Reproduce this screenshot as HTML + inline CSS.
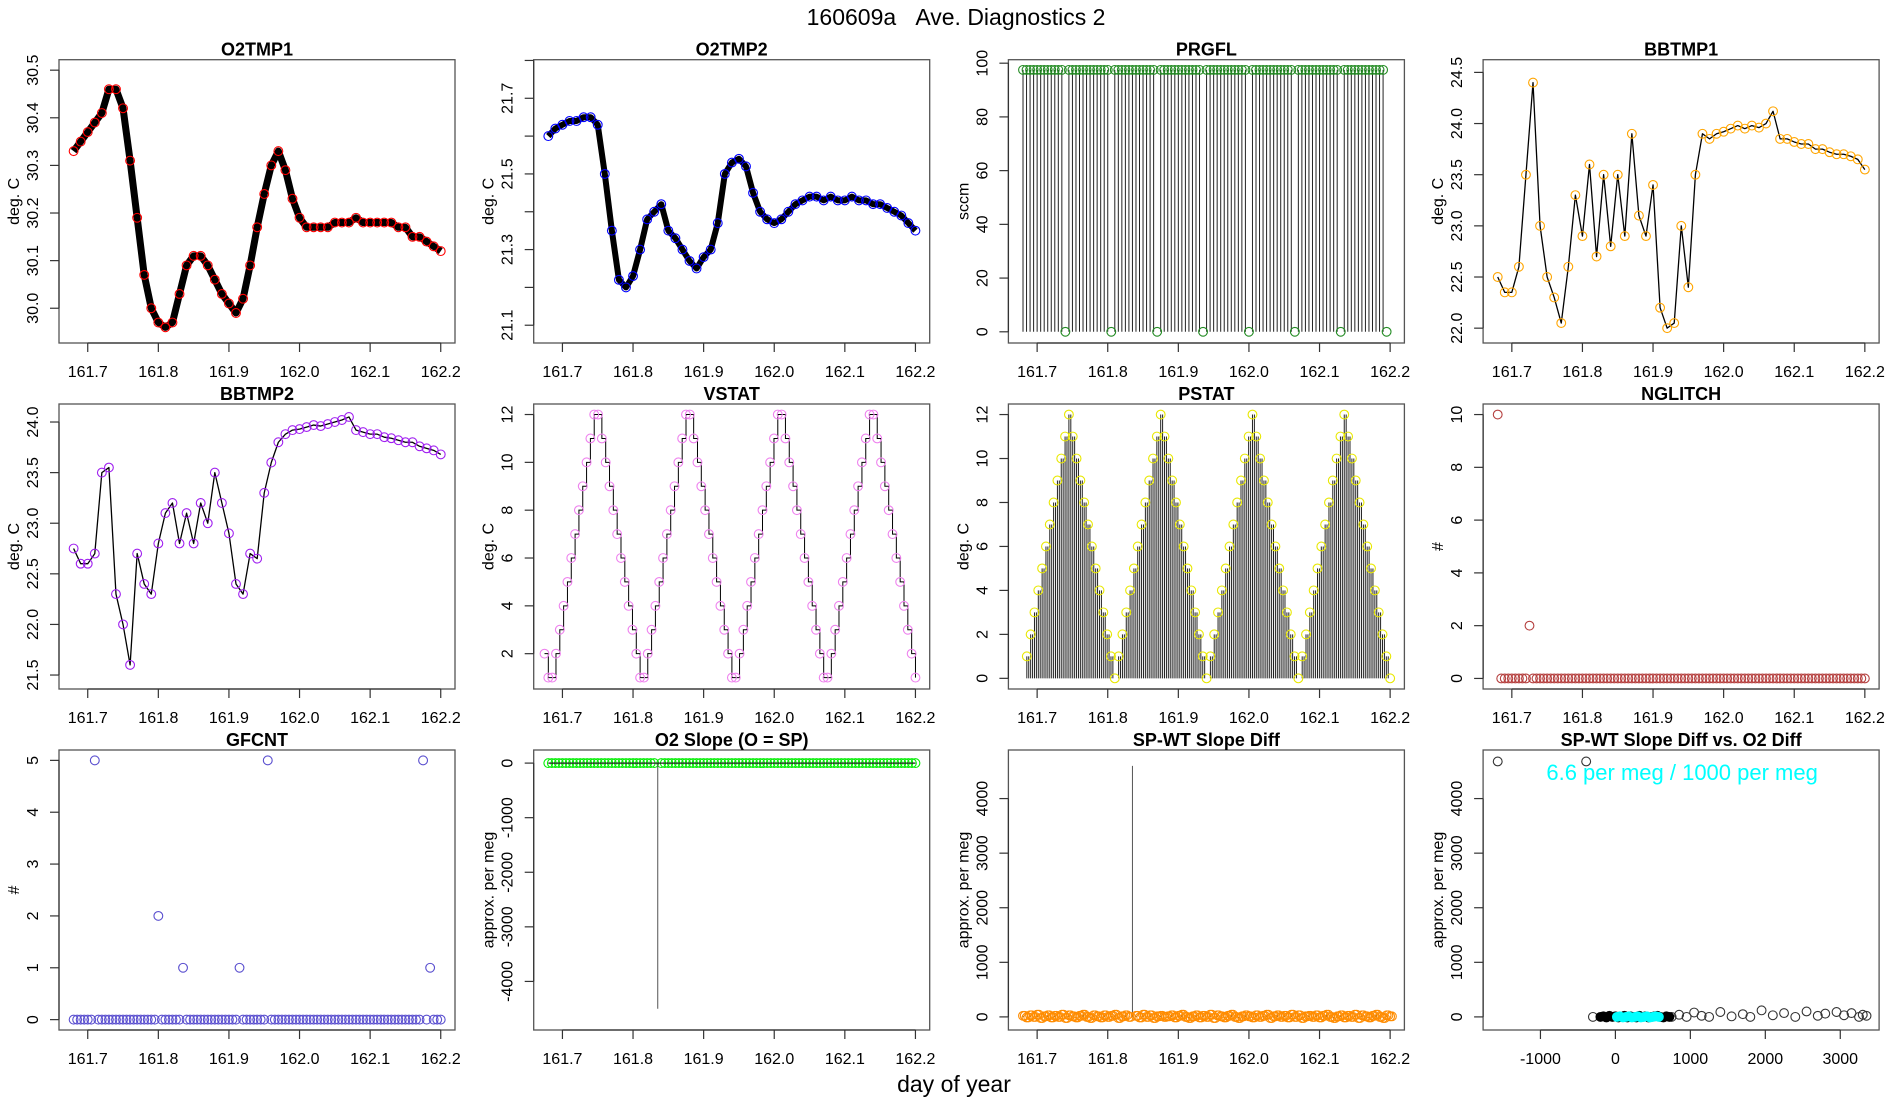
<!DOCTYPE html>
<html><head><meta charset="utf-8"><style>
html,body{margin:0;padding:0;background:#fff;}
svg{display:block;font-family:"Liberation Sans",Arial,sans-serif;}
</style></head><body>
<svg id="chart" xmlns="http://www.w3.org/2000/svg" width="1900" height="1100" viewBox="0 0 1900 1100">
<rect x="0" y="0" width="1900" height="1100" fill="#fff"/>
<text x="956" y="25" font-size="23" text-anchor="middle">160609a&#160;&#160;&#160;Ave. Diagnostics 2</text>
<text x="954" y="1092" font-size="23" text-anchor="middle">day of year</text>
</svg>
<script>
// ---- data ----
const dayStart = 161.68, dayStep = 0.01;
const o2tmp1 = [30.33,30.35,30.37,30.39,30.41,30.46,30.46,30.42,30.31,30.19,30.07,30.00,29.97,29.96,29.97,30.03,30.09,30.11,30.11,30.09,30.06,30.03,30.01,29.99,30.02,30.09,30.17,30.24,30.30,30.33,30.29,30.23,30.19,30.17,30.17,30.17,30.17,30.18,30.18,30.18,30.19,30.18,30.18,30.18,30.18,30.18,30.17,30.17,30.15,30.15,30.14,30.13,30.12];
const o2tmp2 = [21.60,21.62,21.63,21.64,21.64,21.65,21.65,21.63,21.50,21.35,21.22,21.20,21.23,21.30,21.38,21.40,21.42,21.35,21.33,21.30,21.27,21.25,21.28,21.30,21.37,21.50,21.53,21.54,21.52,21.45,21.40,21.38,21.37,21.38,21.40,21.42,21.43,21.44,21.44,21.43,21.44,21.43,21.43,21.44,21.43,21.43,21.42,21.42,21.41,21.40,21.39,21.37,21.35];
const bbtmp1 = [22.5,22.35,22.35,22.6,23.5,24.4,23.0,22.5,22.3,22.05,22.6,23.3,22.9,23.6,22.7,23.5,22.8,23.5,22.9,23.9,23.1,22.9,23.4,22.2,22.0,22.05,23.0,22.4,23.5,23.9,23.85,23.9,23.92,23.95,23.98,23.95,23.98,23.96,24.0,24.12,23.85,23.85,23.82,23.8,23.8,23.75,23.75,23.72,23.7,23.7,23.68,23.65,23.55];
const bbtmp2 = [22.75,22.6,22.6,22.7,23.5,23.55,22.3,22.0,21.6,22.7,22.4,22.3,22.8,23.1,23.2,22.8,23.1,22.8,23.2,23.0,23.5,23.2,22.9,22.4,22.3,22.7,22.65,23.3,23.6,23.8,23.88,23.92,23.93,23.95,23.97,23.96,23.98,24.0,24.02,24.05,23.92,23.9,23.88,23.88,23.85,23.84,23.82,23.8,23.8,23.76,23.74,23.72,23.68];
const fineStart = 161.68, fineStep = 0.005;
const prgfl = [97.5,97.5,97.5,97.5,97.5,97.5,97.5,97.5,97.5,97.5,97.5,97.5,0,
97.5,97.5,97.5,97.5,97.5,97.5,97.5,97.5,97.5,97.5,97.5,97.5,0,
97.5,97.5,97.5,97.5,97.5,97.5,97.5,97.5,97.5,97.5,97.5,97.5,0,
97.5,97.5,97.5,97.5,97.5,97.5,97.5,97.5,97.5,97.5,97.5,97.5,0,
97.5,97.5,97.5,97.5,97.5,97.5,97.5,97.5,97.5,97.5,97.5,97.5,0,
97.5,97.5,97.5,97.5,97.5,97.5,97.5,97.5,97.5,97.5,97.5,97.5,0,
97.5,97.5,97.5,97.5,97.5,97.5,97.5,97.5,97.5,97.5,97.5,97.5,0,
97.5,97.5,97.5,97.5,97.5,97.5,97.5,97.5,97.5,97.5,97.5,97.5,0];
const vstatStart = 161.6746, statStep = 0.005417;
const vstat = [2,1,1,2,3,4,5,6,7,8,9,10,11,12,12,11,10,9,8,7,6,5,4,3,2,1,1,2,3,4,5,6,7,8,9,10,11,12,12,11,10,9,8,7,6,5,4,3,2,1,1,2,3,4,5,6,7,8,9,10,11,12,12,11,10,9,8,7,6,5,4,3,2,1,1,2,3,4,5,6,7,8,9,10,11,12,12,11,10,9,8,7,6,5,4,3,2,1];
const pstatStart = 161.6854;
const pstat = [1,2,3,4,5,6,7,8,9,10,11,12,11,10,9,8,7,6,5,4,3,2,1,0,1,2,3,4,5,6,7,8,9,10,11,12,11,10,9,8,7,6,5,4,3,2,1,0,1,2,3,4,5,6,7,8,9,10,11,12,11,10,9,8,7,6,5,4,3,2,1,0,1,2,3,4,5,6,7,8,9,10,11,12,11,10,9,8,7,6,5,4,3,2,1,0];
const nglitch = [10,0,0,0,0,0,0,0,0,2,0,0,0,0,0,0,0,0,0,0,0,
0,0,0,0,0,0,0,0,0,0,0,0,0,0,0,0,0,0,0,0,0,
0,0,0,0,0,0,0,0,0,0,0,0,0,0,0,0,0,0,0,0,0,
0,0,0,0,0,0,0,0,0,0,0,0,0,0,0,0,0,0,0,0,0,
0,0,0,0,0,0,0,0,0,0,0,0,0,0,0,0,0,0,0,0,0];
const gfcnt = [0,0,0,0,0,0,5,0,0,0,0,0,0,0,0,0,0,0,0,0,0,
0,0,0,2,0,0,0,0,0,0,1,0,0,0,0,0,0,0,0,0,0,
0,0,0,0,0,1,0,0,0,0,0,0,0,5,0,0,0,0,0,0,0,
0,0,0,0,0,0,0,0,0,0,0,0,0,0,0,0,0,0,0,0,0,
0,0,0,0,0,0,0,0,0,0,0,0,0,0,0,5,0,1,0,0,0];
const o2slope = [0,0,0,0,0,0,0,0,0,0,0,0,0,0,0,0,0,0,0,0,0,
0,0,0,0,0,0,0,0,0,0,-4500,0,0,0,0,0,0,0,0,0,0,
0,0,0,0,0,0,0,0,0,0,0,0,0,0,0,0,0,0,0,0,0,
0,0,0,0,0,0,0,0,0,0,0,0,0,0,0,0,0,0,0,0,0,
0,0,0,0,0,0,0,0,0,0,0,0,0,0,0,0,0,0,0,0,0];
const spwt = [20,-10,30,0,40,-20,10,30,-10,20,0,40,-20,30,10,-10,20,40,0,-20,30,
10,-10,30,0,20,40,-20,10,30,0,4600,20,-10,40,0,30,-20,10,20,0,10,
30,-10,20,40,0,-20,10,30,-10,20,0,40,-20,30,10,-10,20,40,0,-20,10,
30,10,-10,30,0,20,40,-20,10,30,0,20,-10,40,0,30,-20,10,20,0,30,
-10,20,40,0,-20,10,30,-10,20,0,40,-20,30,10,-10,20,40,0,-20,30,10];
const scatterX = [-1570,-390,-300,750,850,950,1050,1150,1250,1400,1550,1700,1800,1950,2100,2250,2400,2550,2700,2800,2950,3050,3150,3250,3300,3350];
const scatterY = [4680,4680,0,0,40,0,80,20,0,90,10,50,0,120,30,70,0,100,20,60,90,30,70,0,40,20];
const blobX = [-200,-160,-120,-80,-40,0,40,80,120,160,200,240,280,320,360,400,440,480,520,560,600,640,680,720];
const blobY = [0,10,-10,20,0,10,-10,0,20,-10,10,0,-10,20,0,10,-10,0,10,20,0,-10,10,0];
const cyanX = [20,60,100,140,180,220,260,300,340,380,420,460,500,540,580];
const cyanY = [0,10,-10,0,10,-10,0,10,-10,0,10,-10,0,10,0];
const dayTicks = [161.7,161.8,161.9,162.0,162.1,162.2];
const dayTickLabels = ["161.7","161.8","161.9","162.0","162.1","162.2"];

// ---- layout ----
const NS = 'http://www.w3.org/2000/svg';
const svg = document.getElementById('chart');
const COLS = [59, 533.7, 1008.4, 1483.1], W = 396;
const ROWS = [{top:59.7,h:283.3},{top:404,h:285},{top:750,h:280}];
const DAYD = [161.6593, 162.2202];
function mk(tag, attrs, parent){
  const e = document.createElementNS(NS, tag);
  for (const k in attrs) e.setAttribute(k, attrs[k]);
  (parent || svg).appendChild(e);
  return e;
}
function range(a, b, s){ const r=[]; for(let v=a; v<=b+1e-9; v+=s) r.push(+v.toFixed(6)); return r; }
function panel(key, col, row, title, ylab, yd, yticks, ylabels, xd, xticks, xlabels){
  const x0 = COLS[col], y0 = ROWS[row].top, h = ROWS[row].h, w = W;
  const g = mk('g', {});
  
  
  const sx = v => x0 + (v - xd[0]) / (xd[1] - xd[0]) * w;
  const sy = v => y0 + h - (v - yd[0]) / (yd[1] - yd[0]) * h;
  const box = mk('rect', {x:x0, y:y0, width:w, height:h, fill:'none', stroke:'#555', 'stroke-width':1.3}, g);
  
  
  const t = mk('text', {x:x0 + w/2, y:y0 - 4, 'font-size':18, 'font-weight':'bold', 'text-anchor':'middle'}, g);
  t.textContent = title;
  
  
  const by = y0 + h;
  const xa = mk('line', {x1:sx(xticks[0]), x2:sx(xticks[xticks.length-1]), y1:by, y2:by, stroke:'#333', 'stroke-width':1.2}, g);
  
  
  xticks.forEach((v, i) => {
    const tk = mk('line', {x1:sx(v), x2:sx(v), y1:by, y2:by + 9, stroke:'#333', 'stroke-width':1.2}, g);
    
    
    const lb = mk('text', {x:sx(v), y:by + 34, 'font-size':16, 'text-anchor':'middle'}, g);
    lb.textContent = xlabels[i];
    
    
  });
  const ya = mk('line', {x1:x0, x2:x0, y1:sy(yticks[0]), y2:sy(yticks[yticks.length-1]), stroke:'#333', 'stroke-width':1.2}, g);
  
  
  yticks.forEach((v, i) => {
    const tk = mk('line', {x1:x0 - 9, x2:x0, y1:sy(v), y2:sy(v), stroke:'#333', 'stroke-width':1.2}, g);
    
    
    if (ylabels[i] !== '') {
      const lx = x0 - 21, ly = sy(v);
      const lb = mk('text', {x:lx, y:ly, 'font-size':16, 'text-anchor':'middle', transform:'rotate(-90 ' + lx + ' ' + ly + ')'}, g);
      lb.textContent = ylabels[i];
      
      
    }
  });
  const yx = x0 - 40, yy = y0 + h/2;
  const yl = mk('text', {x:yx, y:yy, 'font-size':16, 'text-anchor':'middle', transform:'rotate(-90 ' + yx + ' ' + yy + ')'}, g);
  yl.textContent = ylab;
  
  
  return {sx, sy, g};
}
function polyline(p, xs, ys, color, sw, name){
  const pts = xs.map((x, i) => p.sx(x).toFixed(2) + ',' + p.sy(ys[i]).toFixed(2)).join(' ');
  const l = mk('polyline', {points:pts, fill:'none', stroke:color, 'stroke-width':sw, 'stroke-linejoin':'round'}, p.g);
  
  
}
function circles(p, xs, ys, color, name, filled, maxAbs){
  xs.forEach((x, i) => {
    if (ys[i] === undefined) return;
    if (maxAbs !== undefined && Math.abs(ys[i]) > maxAbs) return;
    const c = mk('circle', {cx:p.sx(x), cy:p.sy(ys[i]), r:4.4, fill:filled ? color : 'none', stroke:color, 'stroke-width':1.1}, p.g);
    
    
  });
}
function timesFor(arr, start, step){ return arr.map((_, i) => start + i * step); }
function stems(p, xs, ys, color, name){
  xs.forEach((x, i) => {
    if (ys[i] === undefined) return;
    const l = mk('line', {x1:p.sx(x), x2:p.sx(x), y1:p.sy(0), y2:p.sy(ys[i]), stroke:color, 'stroke-width':1}, p.g);
    
    
  });
}
function stepPath(p, xs, ys, color, name){
  let d = 'M' + p.sx(xs[0]) + ',' + p.sy(ys[0]);
  for (let i = 1; i < xs.length; i++) d += ' H' + p.sx(xs[i]) + ' V' + p.sy(ys[i]);
  const l = mk('path', {d:d, fill:'none', stroke:color, 'stroke-width':1}, p.g);
  
  
}

// ---- panels ----
const tDay = timesFor(o2tmp1, dayStart, dayStep);
const tFine = timesFor(nglitch, fineStart, fineStep);

let p = panel('o2tmp1', 0, 0, 'O2TMP1', 'deg. C', [29.927, 30.522], range(30.0, 30.5, 0.1), ['30.0','30.1','30.2','30.3','30.4','30.5'], DAYD, dayTicks, dayTickLabels);
polyline(p, tDay, o2tmp1, '#000', 7, 'o2tmp1-line');
circles(p, tDay, o2tmp1, '#ff0000', 'o2tmp1-point');

p = panel('o2tmp2', 1, 0, 'O2TMP2', 'deg. C', [21.053, 21.802], range(21.1, 21.8, 0.1), ['21.1','','21.3','','21.5','','21.7',''], DAYD, dayTicks, dayTickLabels);
polyline(p, tDay, o2tmp2, '#000', 6, 'o2tmp2-line');
circles(p, tDay, o2tmp2, '#0000ff', 'o2tmp2-point');

p = panel('prgfl', 2, 0, 'PRGFL', 'sccm', [-4.17, 101.3], range(0, 100, 20), ['0','20','40','60','80','100'], DAYD, dayTicks, dayTickLabels);
const tPrg = timesFor(prgfl, fineStart, fineStep);
stems(p, tPrg, prgfl, '#222', 'prgfl-stem');
circles(p, tPrg, prgfl, '#228b22', 'prgfl-point');

p = panel('bbtmp1', 3, 0, 'BBTMP1', 'deg. C', [21.855, 24.624], range(22.0, 24.5, 0.5), ['22.0','22.5','23.0','23.5','24.0','24.5'], DAYD, dayTicks, dayTickLabels);
polyline(p, tDay, bbtmp1, '#000', 1.3, 'bbtmp1-line');
circles(p, tDay, bbtmp1, '#ffa500', 'bbtmp1-point');

p = panel('bbtmp2', 0, 1, 'BBTMP2', 'deg. C', [21.362, 24.178], range(21.5, 24.0, 0.5), ['21.5','22.0','22.5','23.0','23.5','24.0'], DAYD, dayTicks, dayTickLabels);
polyline(p, tDay, bbtmp2, '#000', 1.3, 'bbtmp2-line');
circles(p, tDay, bbtmp2, '#a020f0', 'bbtmp2-point');

p = panel('vstat', 1, 1, 'VSTAT', 'deg. C', [0.523, 12.44], range(2, 12, 2), ['2','4','6','8','10','12'], DAYD, dayTicks, dayTickLabels);
const tV = timesFor(vstat, vstatStart, statStep);
stepPath(p, tV, vstat, '#000', 'vstat-line');
circles(p, tV, vstat, '#ee82ee', 'vstat-point');

p = panel('pstat', 2, 1, 'PSTAT', 'deg. C', [-0.485, 12.48], range(0, 12, 2), ['0','2','4','6','8','10','12'], DAYD, dayTicks, dayTickLabels);
const tP = timesFor(pstat, pstatStart, statStep);
stems(p, tP, pstat, '#222', 'pstat-stem');
stems(p, tP.map(t => t + statStep / 2), pstat, '#222', 'pstat-stem');
circles(p, tP, pstat, '#e8e800', 'pstat-point');

p = panel('nglitch', 3, 1, 'NGLITCH', '#', [-0.4, 10.4], range(0, 10, 2), ['0','2','4','6','8','10'], DAYD, dayTicks, dayTickLabels);
circles(p, tFine, nglitch, '#b5403f', 'nglitch-point');

p = panel('gfcnt', 0, 2, 'GFCNT', '#', [-0.2, 5.2], range(0, 5, 1), ['0','1','2','3','4','5'], DAYD, dayTicks, dayTickLabels);
circles(p, tFine, gfcnt, '#5a4fcf', 'gfcnt-point');

p = panel('o2-slope', 1, 2, 'O2 Slope (O = SP)', 'approx. per meg', [-4890, 240], [-4000,-3000,-2000,-1000,0], ['-4000','-3000','-2000','-1000','0'], DAYD, dayTicks, dayTickLabels);
circles(p, tFine, o2slope, '#00ee00', 'o2-slope-point', false, 1000);
stems(p, tFine, o2slope, '#555', 'o2-slope-stem');
polyline(p, tFine, o2slope.map(v => Math.abs(v) > 1000 ? 0 : v), '#222', 1.2, 'o2-slope-line');

p = panel('spwt-slope-diff', 2, 2, 'SP-WT Slope Diff', 'approx. per meg', [-240, 4890], [0,1000,2000,3000,4000], ['0','1000','2000','3000','4000'], DAYD, dayTicks, dayTickLabels);
stems(p, tFine, spwt, '#555', 'spwt-stem');
circles(p, tFine, spwt, '#ff8c00', 'spwt-point', false, 1000);
circles(p, tFine.map(t => t + fineStep / 2), spwt, '#ff8c00', 'spwt-point', false, 1000);

p = panel('spwt-vs-o2', 3, 2, 'SP-WT Slope Diff vs. O2 Diff', 'approx. per meg', [-240, 4890], [0,1000,2000,3000,4000], ['0','1000','2000','3000','4000'], [-1765, 3518], [-1000,0,1000,2000,3000], ['-1000','0','1000','2000','3000']);
circles(p, scatterX, scatterY, '#333', 'scatter-point');
circles(p, blobX, blobY, '#000', 'scatter-dense-point', true);
circles(p, cyanX, cyanY, '#00ffff', 'scatter-highlight-point', true);
const ann = mk('text', {x:COLS[3] + W/2 + 1, y:780, 'font-size':22, fill:'#00ffff', 'text-anchor':'middle'}, p.g);
ann.textContent = '6.6 per meg / 1000 per meg';


</script>
</body></html>
